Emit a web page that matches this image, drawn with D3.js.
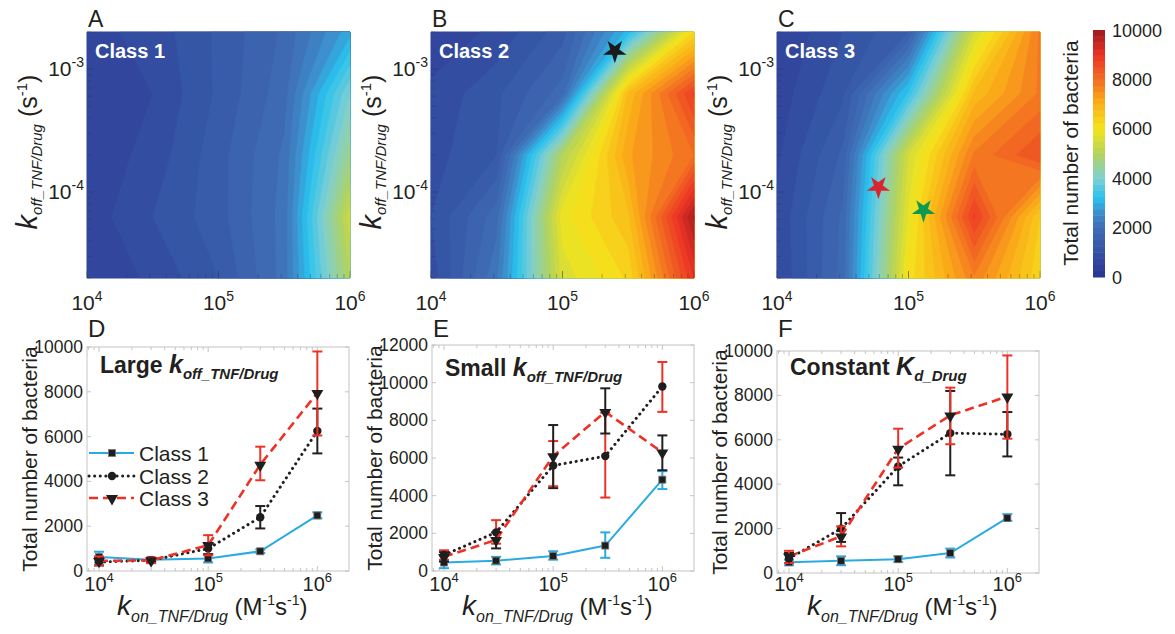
<!DOCTYPE html>
<html>
<head>
<meta charset="utf-8">
<script src="https://cdn.jsdelivr.net/npm/d3@7"></script>
<style>
  body { margin: 0; background: #fff; }
  text { font-family: "Liberation Sans", Arial, Helvetica, sans-serif; fill: #231f20; }
</style>
</head>
<body>
<script>
// ---- sweep grid of the contour maps (rows: koff from small to large) ----
var konGrid = [1e4, 3.16e4, 1e5, 3.16e5, 1e6];
var koffGrid = [2e-5, 6.3e-5, 2e-4, 6.3e-4, 2e-3];

var class1Map = [
  [550, 800, 1250, 2100, 5000],
  [600, 1000, 1400, 2100, 5400],
  [550, 850, 1400, 2050, 4600],
  [500, 750, 1300, 1900, 4000],
  [650, 850, 1300, 1800, 2900]
];
var class2Map = [
  [850, 2200, 5600, 6300, 9000],
  [1000, 1900, 5900, 6700, 9800],
  [900, 1250, 5000, 7200, 8000],
  [800, 1200, 1870, 6800, 8800],
  [600, 800, 1400, 3100, 6250]
];
var class3Map = [
  [750, 1850, 6100, 7700, 6300],
  [800, 1800, 5800, 8800, 6500],
  [700, 1550, 5500, 7800, 8500],
  [600, 1200, 3300, 6800, 7800],
  [500, 1000, 1500, 5500, 7800]
];

// stars marked on the maps: [kon, koff]
var starB = [[2.5e5, 1.4e-3]];
var starC = [[5.9e4, 1.1e-4], [1.3e5, 7.1e-5]];

// colour map
var cbStops = [0, 1000, 2000, 2600, 3200, 4000, 5000, 6000, 7000, 8000, 9000, 10000];
var cbColors = ['#2b338f', '#3452a3', '#3f6db5', '#3e8dcc', '#28c3ef', '#7ecfd2', '#b3d35c',
                '#f4e41c', '#fbb118', '#f36e22', '#ec3325', '#9b1b1e'];
var cbTicks = [0, 2000, 4000, 6000, 8000, 10000];

// ---- line panels ----
var sweepKon = [1e4, 3e4, 1e5, 3e5, 1e6];

var largeClass1 = [620, 500, 560, 880, 2480];
var largeClass1Err = [[380, 860], [450, 560], [380, 740], [800, 960], [2350, 2620]];
var largeClass2 = [400, 480, 1000, 2400, 6250];
var largeClass2Err = [[250, 600], [400, 560], [750, 1250], [1900, 2900], [5250, 7250]];
var largeClass3 = [450, 480, 1150, 4750, 7950];
var largeClass3Err = [[250, 650], [350, 600], [700, 1600], [4050, 5550], [6050, 9800]];

var smallClass1 = [450, 550, 800, 1350, 4850];
var smallClass1Err = [[150, 800], [350, 750], [600, 1050], [700, 2050], [4350, 5300]];
var smallClass2 = [850, 2050, 5600, 6100, 9800];
var smallClass2Err = [[600, 1100], [1450, 2700], [4500, 6900], [3900, 8400], [8450, 11100]];
var smallClass3 = [750, 1650, 6100, 8450, 6300];
var smallClass3Err = [[500, 1000], [1200, 2050], [4400, 7750], [7300, 9700], [5350, 7200]];

var constClass1 = [480, 550, 620, 900, 2480];
var constClass1Err = [[350, 600], [350, 750], [500, 750], [700, 1100], [2350, 2650]];
var constClass2 = [650, 2000, 4800, 6300, 6250];
var constClass2Err = [[450, 900], [1400, 2700], [3950, 5200], [4400, 8200], [5250, 7250]];
var constClass3 = [750, 1650, 5600, 7100, 7950];
var constClass3Err = [[450, 1000], [1200, 2100], [4750, 6500], [5800, 8350], [6050, 9800]];

var classNames = ['Class 1', 'Class 2', 'Class 3'];
var yTicks10k = [0, 2000, 4000, 6000, 8000, 10000];
var yTicks12k = [0, 2000, 4000, 6000, 8000, 10000, 12000];

var CYAN = '#29abe2', RED = '#ee3124', BLACK = '#231f20';

var svg = d3.select('body').append('svg')
    .attr('width', 1175)
    .attr('height', 634);

var color = d3.scaleLinear().domain(cbStops).range(cbColors).clamp(true);
var step = 250;
var levels = d3.range(0, 10000, step);

// text with mixed sizes / sub- and superscripts
function rich(sel, parts) {
    parts.forEach(function (p) {
        sel.append('tspan')
            .text(p.t)
            .attr('font-size', p.size + 'px')
            .attr('font-style', p.italic ? 'italic' : null)
            .attr('font-weight', p.bold ? 'bold' : null)
            .attr('dy', p.dy || 0);
    });
    return sel;
}

function powLabel(sel, exp, big, small, lift) {
    return rich(sel, [{t: '10', size: big}, {t: exp, size: small, dy: -lift}]);
}

// ---------------- contour maps ----------------
function heatPanel(x0, grid, name, letter, stars, starColors) {
    var w = 263, yTop = 32, yBot = 278;
    var xs = d3.scaleLog().domain([1e4, 1e6]).range([x0, x0 + w]);
    var ys = d3.scaleLog().domain([2e-5, 2e-3]).range([yBot, yTop]);
    var ix = d3.scaleLinear().domain([0.5, 1.5, 2.5, 3.5, 4.5])
        .range(konGrid.map(Math.log10)).clamp(true);
    var iy = d3.scaleLinear().domain([0.5, 1.5, 2.5, 3.5, 4.5])
        .range(koffGrid.map(Math.log10)).clamp(true);

    var values = [];
    grid.forEach(function (row) { row.forEach(function (v) { values.push(v); }); });
    var contours = d3.contours().size([konGrid.length, koffGrid.length]).thresholds(levels)(values);

    var proj = d3.geoTransform({
        point: function (px, py) {
            this.stream.point(xs(Math.pow(10, ix(px))), ys(Math.pow(10, iy(py))));
        }
    });
    var path = d3.geoPath(proj);

    var g = svg.append('g');
    g.selectAll('path.band')
        .data(contours)
        .enter().append('path')
        .attr('class', 'band')
        .attr('d', path)
        .attr('fill', function (d) { return color(d.value + step / 2); })
        .attr('stroke', function (d) { return color(d.value + step / 2); })
        .attr('stroke-width', 0.4);

    // inner minor ticks
    var xt = [];
    [1e4, 1e5].forEach(function (dec) { for (var k = 1; k <= 10; k++) xt.push(dec * k); });
    g.selectAll('line.xt').data(xt).enter().append('line')
        .attr('x1', function (d) { return xs(d); }).attr('x2', function (d) { return xs(d); })
        .attr('y1', yBot).attr('y2', function (d) { return yBot - (Math.log10(d) % 1 === 0 ? 7 : 4); })
        .attr('stroke', '#333').attr('stroke-opacity', 0.35);
    var yt = [];
    [2, 3, 4, 5, 6, 7, 8, 9].forEach(function (k) { yt.push(k * 1e-5); });
    [1, 2, 3, 4, 5, 6, 7, 8, 9].forEach(function (k) { yt.push(k * 1e-4); });
    [1, 2].forEach(function (k) { yt.push(k * 1e-3); });
    g.selectAll('line.yt').data(yt).enter().append('line')
        .attr('y1', function (d) { return ys(d); }).attr('y2', function (d) { return ys(d); })
        .attr('x1', x0).attr('x2', function (d) { return x0 + (d === 1e-4 || d === 1e-3 ? 7 : 4); })
        .attr('stroke', '#333').attr('stroke-opacity', 0.35);

    // tick labels
    [1e4, 1e5, 1e6].forEach(function (v) {
        powLabel(svg.append('text').attr('x', xs(v)).attr('y', 310).attr('text-anchor', 'middle'),
            String(Math.round(Math.log10(v))), 21, 14, 9);
    });
    [1e-4, 1e-3].forEach(function (v) {
        powLabel(svg.append('text').attr('x', x0 - 3).attr('y', ys(v) + 7).attr('text-anchor', 'end'),
            String(Math.round(Math.log10(v))), 21, 14, 9);
    });

    // y label
    rich(svg.append('text')
        .attr('transform', 'translate(' + (x0 - 50) + ',152) rotate(-90)')
        .attr('text-anchor', 'middle'), [
        {t: 'k', size: 29, italic: true},
        {t: 'off_TNF/Drug', size: 15, italic: true, dy: 5},
        {t: ' (s', size: 25, dy: -5},
        {t: '-1', size: 15, dy: -10},
        {t: ')', size: 25, dy: 10}
    ]);

    svg.append('text').attr('x', x0 + 8).attr('y', 58)
        .attr('font-size', '20px').attr('font-weight', 'bold')
        .style('fill', '#fff').text(name);
    svg.append('text').attr('x', x0 + 1).attr('y', 27)
        .attr('font-size', '23px').text(letter);

    (stars || []).forEach(function (s, i) {
        svg.append('path')
            .attr('d', d3.symbol(d3.symbolStar).size(170)())
            .attr('transform', 'translate(' + xs(s[0]) + ',' + ys(s[1]) + ') rotate(180)')
            .attr('fill', starColors[i]);
    });
}

heatPanel(87, class1Map, 'Class 1', 'A', [], []);
heatPanel(431, class2Map, 'Class 2', 'B', starB, ['#1a1a1a']);
heatPanel(777, class3Map, 'Class 3', 'C', starC, ['#d7262e', '#0c9a52']);

// colour bar
(function () {
    var cx = 1093, cw = 12;
    var cs = d3.scaleLinear().domain([0, 10000]).range([277, 30]);
    svg.append('g').selectAll('rect')
        .data(d3.range(0, 10000, step))
        .enter().append('rect')
        .attr('x', cx).attr('width', cw)
        .attr('y', function (d) { return cs(d + step); })
        .attr('height', function (d) { return cs(d) - cs(d + step) + 0.5; })
        .attr('fill', function (d) { return color(d + step / 2); });
    cbTicks.forEach(function (t) {
        svg.append('text').attr('x', 1112).attr('y', cs(t) + 6.5)
            .attr('font-size', '18px').text(t);
    });
    svg.append('text')
        .attr('transform', 'translate(1078,153) rotate(-90)')
        .attr('text-anchor', 'middle')
        .attr('font-size', '21px')
        .text('Total number of bacteria');
})();

// ---------------- line panels ----------------
function linePanel(opt) {
    var x0 = opt.x0, x1 = x0 + 262, yTop = opt.yTop, yBot = opt.yBot;
    var xs = d3.scaleLog().domain([Math.pow(10, 3.89), Math.pow(10, 6.29)]).range([x0, x1]);
    var ys = d3.scaleLinear().domain([0, opt.yMax]).range([yBot, yTop]);
    var g = svg.append('g');

    g.append('rect').attr('x', x0).attr('y', yTop)
        .attr('width', x1 - x0).attr('height', yBot - yTop)
        .attr('fill', 'none').attr('stroke', '#c4c4c4').attr('stroke-width', 1);

    // ticks (inside, both sides)
    var xt = [];
    [1e3, 1e4, 1e5, 1e6].forEach(function (dec) { for (var k = 1; k < 10; k++) xt.push(dec * k); });
    xt = xt.filter(function (d) { return xs(d) > x0 + 1 && xs(d) < x1 - 1; });
    xt.forEach(function (d) {
        var L = Math.log10(d) % 1 === 0 ? 5 : 3;
        g.append('line').attr('x1', xs(d)).attr('x2', xs(d)).attr('y1', yBot).attr('y2', yBot - L)
            .attr('stroke', '#c4c4c4');
        g.append('line').attr('x1', xs(d)).attr('x2', xs(d)).attr('y1', yTop).attr('y2', yTop + L)
            .attr('stroke', '#c4c4c4');
    });
    opt.yTicks.forEach(function (t) {
        g.append('line').attr('x1', x0).attr('x2', x0 + 4).attr('y1', ys(t)).attr('y2', ys(t))
            .attr('stroke', '#c4c4c4');
        g.append('line').attr('x1', x1).attr('x2', x1 - 4).attr('y1', ys(t)).attr('y2', ys(t))
            .attr('stroke', '#c4c4c4');
        svg.append('text').attr('x', x0 - 4).attr('y', ys(t) + 6)
            .attr('text-anchor', 'end').attr('font-size', '17.5px').text(t);
    });
    [1e4, 1e5, 1e6].forEach(function (v) {
        powLabel(svg.append('text').attr('x', xs(v)).attr('y', 591).attr('text-anchor', 'middle'),
            String(Math.round(Math.log10(v))), 20, 13, 9);
    });

    // series
    opt.series.forEach(function (s) {
        var line = d3.line()
            .x(function (d, i) { return xs(sweepKon[i]); })
            .y(function (d) { return ys(d); });
        g.append('path').datum(s.vals)
            .attr('d', line)
            .attr('fill', 'none')
            .attr('stroke', s.color)
            .attr('stroke-width', s.width)
            .attr('stroke-dasharray', s.dash)
            .attr('stroke-linecap', s.cap || 'butt');
        s.err.forEach(function (e, i) {
            var x = xs(sweepKon[i]);
            g.append('line').attr('x1', x).attr('x2', x).attr('y1', ys(e[0])).attr('y2', ys(e[1]))
                .attr('stroke', s.errColor).attr('stroke-width', 2);
            [e[0], e[1]].forEach(function (v) {
                g.append('line').attr('x1', x - 5).attr('x2', x + 5).attr('y1', ys(v)).attr('y2', ys(v))
                    .attr('stroke', s.errColor).attr('stroke-width', 2);
            });
        });
        s.vals.forEach(function (v, i) {
            marker(g, s.marker, xs(sweepKon[i]), ys(v));
        });
    });

    // legend
    if (opt.legend) {
        var ly = [453, 476, 498];
        opt.series.forEach(function (s, i) {
            g.append('line').attr('x1', x0 + 2).attr('x2', x0 + 47).attr('y1', ly[i]).attr('y2', ly[i])
                .attr('stroke', s.color).attr('stroke-width', s.width)
                .attr('stroke-dasharray', s.dash).attr('stroke-linecap', s.cap || 'butt');
            marker(g, s.marker, x0 + 25, ly[i]);
            svg.append('text').attr('x', x0 + 52).attr('y', ly[i] + 7.5)
                .attr('font-size', '21px').text(classNames[i]);
        });
    }

    // title, letter, axis labels
    rich(svg.append('text').attr('x', x0 + 13).attr('y', opt.titleY), opt.title);
    svg.append('text').attr('x', x0 + 1).attr('y', 337).attr('font-size', '24px').text(opt.letter);
    svg.append('text')
        .attr('transform', 'translate(' + (x0 - 50) + ',' + ((yTop + yBot) / 2) + ') rotate(-90)')
        .attr('text-anchor', 'middle')
        .attr('font-size', '21px')
        .text('Total number of bacteria');
    rich(svg.append('text').attr('x', x0 + 30).attr('y', 615), [
        {t: 'k', size: 28, italic: true},
        {t: 'on_TNF/Drug', size: 16, italic: true, dy: 7},
        {t: ' (M', size: 24, dy: -7},
        {t: '-1', size: 14, dy: -10},
        {t: 's', size: 24, dy: 10},
        {t: '-1', size: 14, dy: -10},
        {t: ')', size: 24, dy: 10}
    ]);
}

function marker(g, type, x, y) {
    if (type === 'square') {
        g.append('rect').attr('x', x - 3.5).attr('y', y - 3.5).attr('width', 7).attr('height', 7)
            .attr('fill', '#1e1e1e').attr('stroke', '#777').attr('stroke-width', 0.8);
    } else if (type === 'circle') {
        g.append('circle').attr('cx', x).attr('cy', y).attr('r', 4.2).attr('fill', '#1e1e1e');
    } else {
        g.append('path').attr('d', d3.symbol(d3.symbolTriangle).size(62)())
            .attr('transform', 'translate(' + x + ',' + (y + 0.5) + ') rotate(180)')
            .attr('fill', '#1e1e1e');
    }
}

function seriesSet(c1, e1, c2, e2, c2col, c3, e3, c3col) {
    return [
        {vals: c1, err: e1, color: CYAN, errColor: CYAN, width: 2, dash: null, marker: 'square'},
        {vals: c2, err: e2, color: BLACK, errColor: c2col, width: 3, dash: '0.1,5.5', cap: 'round', marker: 'circle'},
        {vals: c3, err: e3, color: RED, errColor: c3col, width: 2.6, dash: '9,5', marker: 'triangle'}
    ];
}

linePanel({
    x0: 87, yTop: 347, yBot: 571, yMax: 10000, yTicks: yTicks10k, letter: 'D', titleY: 373, legend: true,
    title: [{t: 'Large ', size: 23, bold: true}, {t: 'k', size: 25, bold: true, italic: true},
            {t: 'off_TNF/Drug', size: 15, bold: true, italic: true, dy: 6}],
    series: seriesSet(largeClass1, largeClass1Err, largeClass2, largeClass2Err, BLACK,
                      largeClass3, largeClass3Err, RED)
});
linePanel({
    x0: 432, yTop: 345, yBot: 571, yMax: 12000, yTicks: yTicks12k, letter: 'E', titleY: 376,
    title: [{t: 'Small ', size: 23, bold: true}, {t: 'k', size: 25, bold: true, italic: true},
            {t: 'off_TNF/Drug', size: 15, bold: true, italic: true, dy: 6}],
    series: seriesSet(smallClass1, smallClass1Err, smallClass2, smallClass2Err, RED,
                      smallClass3, smallClass3Err, BLACK)
});
linePanel({
    x0: 777, yTop: 351, yBot: 573, yMax: 10000, yTicks: yTicks10k, letter: 'F', titleY: 375,
    title: [{t: 'Constant ', size: 23, bold: true}, {t: 'K', size: 25, bold: true, italic: true},
            {t: 'd_Drug', size: 15, bold: true, italic: true, dy: 6}],
    series: seriesSet(constClass1, constClass1Err, constClass2, constClass2Err, BLACK,
                      constClass3, constClass3Err, RED)
});
</script>
</body>
</html>
